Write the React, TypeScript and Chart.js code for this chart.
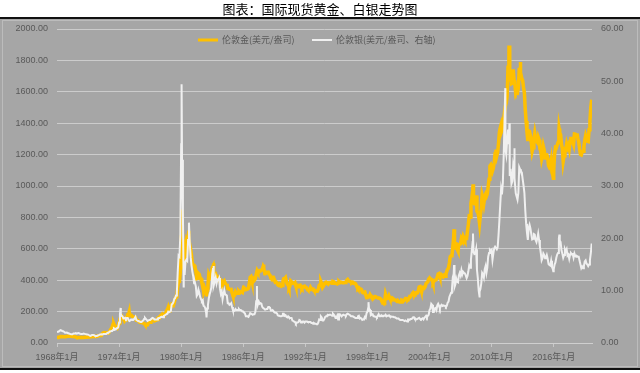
import { useEffect, useRef } from 'react';
import { Chart, registerables } from 'chart.js';

Chart.register(...registerables);

const TITLE = '图表：国际现货黄金、白银走势图';
const GOLD_LABEL = '伦敦金(美元/盎司)';
const SILVER_LABEL = '伦敦银(美元/盎司、右轴)';

const START_YEAR = 1968;

const xTickYears = [1968, 1974, 1980, 1986, 1992, 1998, 2004, 2010, 2016];
const xTickLabels = ['1968年1月', '1974年1月', '1980年1月', '1986年1月', '1992年1月', '1998年1月', '2004年1月', '2010年1月', '2016年1月'];

// Gold, monthly, USD/oz
const gold1968s = [
  35.2, 35.3, 37.5, 38.0, 41.0, 41.1, 39.5, 39.2, 40.0, 39.3, 39.8, 41.5,
  42.3, 42.6, 43.2, 43.3, 43.4, 41.7, 42.2, 41.0, 40.5, 40.2, 37.4, 35.2,
  34.9, 35.0, 35.1, 35.6, 35.9, 35.5, 35.3, 35.4, 36.2, 37.5, 37.4, 37.4,
  37.9, 38.7, 38.9, 39.0, 40.5, 40.1, 41.0, 42.7, 42.0, 42.5, 42.9, 43.5,
  45.7, 48.3, 48.3, 49.0, 54.6, 62.1, 65.7, 67.0, 65.5, 64.9, 62.9, 63.9,
  65.1, 74.2, 84.4, 90.5, 102.0, 120.1, 120.2, 106.8, 103.0, 100.1, 94.8, 106.7,
  129.0, 150.2, 168.4, 172.2, 163.3, 154.1, 143.0, 154.6, 151.8, 158.8, 181.7, 183.9,
  176.3, 179.6, 178.2, 170.1, 167.4, 164.2, 165.2, 163.1, 144.1, 142.8, 142.8, 139.3,
  131.6, 130.4, 132.7, 128.2, 126.4, 125.5, 117.7, 109.9, 114.4, 116.0, 130.3, 133.8,
  132.3, 136.4, 148.3, 149.3, 147.0, 140.8, 143.4, 145.0, 149.3, 158.2, 162.3, 160.9,
  173.2, 178.2, 183.7, 175.4, 176.3, 183.4, 188.8, 206.2, 212.5, 227.3, 206.1, 207.8,
  227.3, 245.7, 242.1, 239.2, 257.6, 279.1, 294.7, 300.8, 355.1, 391.7, 392.5, 455.1,
];
const gold1980s = [
  675.3, 665.3, 553.6, 517.4, 513.8, 600.7, 644.3, 626.5, 673.6, 661.1, 623.5, 594.9,
  557.4, 500.5, 498.8, 495.8, 479.7, 460.8, 409.3, 410.9, 443.3, 437.7, 413.4, 410.1,
  384.1, 374.2, 330.2, 350.5, 333.9, 314.9, 338.6, 364.3, 435.6, 422.6, 415.5, 444.3,
  481.2, 491.4, 419.8, 432.8, 437.4, 412.9, 422.7, 416.2, 412.0, 393.9, 381.5, 388.1,
  370.8, 386.8, 394.2, 381.1, 377.6, 377.7, 347.7, 347.7, 341.1, 340.2, 341.2, 320.2,
  302.7, 299.1, 304.0, 324.9, 316.6, 316.8, 317.4, 330.0, 323.5, 325.9, 325.3, 322.0,
  345.4, 338.9, 345.7, 340.4, 342.5, 342.9, 348.4, 376.4, 418.1, 423.3, 398.1, 391.3,
  408.3, 401.1, 408.9, 438.4, 460.2, 449.6, 450.5, 460.8, 460.0, 465.4, 467.1, 486.3,
  477.2, 442.7, 443.6, 452.1, 451.3, 451.6, 437.6, 431.0, 413.4, 406.8, 419.9, 419.4,
  404.0, 387.8, 390.2, 384.2, 371.1, 367.6, 375.0, 365.4, 361.9, 366.9, 394.0, 409.5,
];
const gold1990s = [
  410.1, 416.8, 393.1, 374.3, 369.0, 352.2, 362.5, 395.0, 389.3, 380.7, 381.8, 378.2,
  383.6, 363.8, 363.3, 358.4, 357.4, 366.7, 367.7, 356.2, 348.7, 358.7, 359.6, 361.7,
  354.5, 353.9, 344.3, 338.6, 337.2, 340.8, 353.1, 342.9, 345.4, 344.4, 335.1, 334.7,
  329.0, 329.4, 330.1, 342.2, 367.1, 371.9, 392.0, 378.8, 355.3, 364.2, 373.8, 383.3,
  387.0, 382.0, 384.0, 377.3, 381.4, 385.6, 385.5, 380.4, 391.6, 389.8, 384.4, 379.3,
  378.6, 376.5, 382.1, 391.0, 385.2, 387.6, 386.2, 383.7, 383.1, 383.1, 385.9, 387.4,
  400.0, 404.8, 396.2, 392.8, 391.9, 385.3, 383.5, 387.5, 383.1, 381.1, 377.9, 369.2,
  355.0, 346.6, 351.8, 344.5, 343.8, 340.8, 324.1, 323.8, 322.8, 324.9, 306.0, 288.7,
  289.3, 297.5, 295.9, 308.4, 299.1, 292.3, 292.9, 284.1, 289.0, 296.1, 294.1, 291.6,
  287.1, 287.3, 285.9, 282.6, 276.4, 261.3, 256.1, 256.7, 264.7, 310.7, 293.2, 283.1,
];
const gold2000s = [
  284.6, 300.0, 286.4, 279.7, 275.3, 285.7, 281.6, 274.5, 273.7, 270.6, 266.0, 271.5,
  265.5, 261.9, 263.0, 260.5, 272.4, 270.2, 267.5, 272.4, 283.4, 283.1, 276.2, 275.9,
  281.7, 295.5, 294.0, 302.7, 314.5, 321.2, 313.3, 310.3, 319.2, 316.6, 319.2, 332.8,
  356.9, 359.0, 340.6, 328.2, 355.7, 356.4, 351.0, 359.8, 378.9, 378.9, 389.9, 407.6,
  414.0, 405.3, 406.7, 403.0, 383.8, 392.4, 398.1, 400.5, 405.3, 420.5, 439.4, 442.1,
  424.2, 423.4, 434.2, 429.2, 421.9, 430.7, 424.5, 437.9, 456.1, 469.9, 476.7, 510.1,
  549.9, 555.0, 557.1, 610.6, 676.5, 596.2, 633.7, 632.6, 598.2, 585.8, 627.8, 629.8,
  631.2, 664.8, 654.9, 679.4, 666.9, 655.5, 665.3, 665.4, 712.7, 754.6, 806.3, 803.2,
  889.6, 922.3, 968.4, 909.7, 888.7, 889.5, 939.8, 839.0, 829.9, 806.6, 760.9, 816.1,
  858.7, 943.2, 924.3, 890.2, 928.6, 945.7, 934.2, 949.5, 996.6, 1043.2, 1127.0, 1134.7,
];
const gold2010s = [
  1117.9, 1095.4, 1113.3, 1148.7, 1205.4, 1232.9, 1193.0, 1215.8, 1271.0, 1342.0, 1369.9, 1390.6,
  1356.4, 1372.7, 1424.0, 1473.8, 1510.4, 1528.7, 1572.8, 1755.8, 1771.9, 1665.2, 1738.9, 1652.2,
  1656.1, 1742.6, 1673.8, 1649.2, 1585.5, 1596.7, 1593.9, 1626.0, 1744.5, 1746.6, 1721.6, 1684.8,
  1671.9, 1627.6, 1592.9, 1487.9, 1414.0, 1343.4, 1285.5, 1351.7, 1348.6, 1316.6, 1275.8, 1221.5,
  1244.3, 1299.6, 1336.1, 1299.0, 1287.5, 1279.1, 1310.6, 1295.1, 1236.6, 1222.5, 1175.3, 1200.6,
  1250.8, 1227.1, 1178.6, 1197.9, 1198.6, 1181.5, 1128.3, 1117.9, 1124.8, 1159.3, 1085.7, 1068.3,
  1097.9, 1199.5, 1245.1, 1242.3, 1260.9, 1276.4, 1336.7, 1340.2, 1326.6, 1266.6, 1238.4, 1157.4,
  1192.1, 1234.2, 1231.4, 1266.9, 1246.0, 1260.3, 1236.8, 1283.0, 1314.1, 1279.5, 1281.9, 1264.5,
  1331.3, 1330.7, 1324.7, 1334.8, 1303.5, 1281.6, 1237.7, 1201.7, 1198.4, 1215.4, 1220.7, 1250.4,
  1291.8, 1320.1, 1300.9, 1285.9, 1283.7, 1359.0, 1413.0, 1500.4,
];
// Daily extremes visible in the picture [decimal year, price]
const goldExtremes = [
  [1974.97, 197], [1980.05, 850], [1980.22, 480], [1980.72, 715], [1982.47, 297],
  [1983.12, 510], [1987.95, 500], [1999.65, 252], [2006.37, 725], [2008.21, 1011],
  [2011.68, 1895], [2012.75, 1790], [2015.96, 1050], [2016.52, 1366], [2019.67, 1550],
];

// Silver, monthly, USD/oz
const silver1968s = [
  2.10, 2.10, 2.20, 2.35, 2.45, 2.40, 2.30, 2.25, 2.20, 2.00, 1.95, 1.98,
  1.95, 1.85, 1.80, 1.75, 1.70, 1.65, 1.65, 1.80, 1.80, 1.80, 1.85, 1.80,
  1.85, 1.90, 1.85, 1.75, 1.70, 1.70, 1.70, 1.80, 1.75, 1.70, 1.65, 1.63,
  1.60, 1.55, 1.40, 1.35, 1.50, 1.55, 1.55, 1.50, 1.38, 1.35, 1.32, 1.37,
  1.49, 1.55, 1.63, 1.66, 1.68, 1.62, 1.71, 1.74, 1.72, 1.73, 1.88, 1.96,
  2.00, 2.20, 2.20, 2.30, 2.30, 2.50, 2.80, 2.70, 2.60, 2.80, 2.80, 3.00,
  3.90, 5.50, 5.50, 5.20, 5.10, 4.70, 4.70, 4.80, 4.60, 4.80, 4.80, 4.40,
  4.20, 4.30, 4.50, 4.40, 4.50, 4.50, 4.70, 5.00, 4.40, 4.30, 4.20, 4.20,
  4.10, 4.00, 4.00, 4.20, 4.30, 4.60, 4.80, 4.60, 4.40, 4.20, 4.30, 4.40,
  4.40, 4.40, 4.70, 4.80, 4.70, 4.50, 4.50, 4.50, 4.50, 4.70, 4.80, 4.80,
  4.90, 5.00, 5.00, 4.90, 5.20, 5.30, 5.40, 5.50, 5.60, 6.00, 5.90, 5.90,
  6.10, 7.40, 7.50, 7.80, 8.40, 8.60, 9.10, 9.60, 13.60, 16.70, 16.50, 20.60,
];
const silver1980s = [
  38.00, 35.00, 25.00, 14.50, 13.00, 15.60, 15.90, 15.70, 19.70, 19.70, 19.00, 16.40,
  14.80, 13.60, 12.70, 11.40, 11.50, 10.80, 9.00, 9.30, 10.20, 9.60, 8.80, 8.40,
  8.00, 8.20, 7.10, 7.00, 6.60, 5.70, 6.60, 7.20, 8.50, 9.30, 9.90, 10.60,
  13.20, 14.30, 11.00, 11.80, 12.50, 11.40, 12.10, 12.00, 12.40, 10.40, 9.40, 9.90,
  8.40, 9.30, 10.10, 9.30, 9.20, 9.00, 7.60, 7.60, 7.30, 7.40, 7.60, 6.90,
  6.30, 6.10, 6.20, 6.50, 6.30, 6.30, 6.30, 6.50, 6.30, 6.30, 6.20, 6.00,
  6.00, 5.80, 5.60, 5.10, 5.10, 5.10, 5.00, 5.30, 5.70, 5.60, 5.50, 5.40,
  5.50, 5.50, 5.90, 8.00, 8.30, 7.40, 7.90, 7.50, 7.60, 7.50, 6.90, 6.70,
  6.60, 6.40, 6.40, 6.50, 6.50, 6.90, 6.90, 6.70, 6.20, 6.20, 6.30, 6.10,
  5.90, 5.80, 5.80, 5.70, 5.30, 5.20, 5.20, 5.10, 5.10, 5.20, 5.60, 5.60,
];
const silver1990s = [
  5.20, 5.30, 5.00, 4.90, 5.10, 4.90, 4.80, 4.80, 4.80, 4.30, 4.20, 4.10,
  4.00, 3.70, 3.90, 3.90, 4.00, 4.40, 4.30, 3.90, 4.00, 4.10, 4.10, 3.90,
  4.10, 4.10, 4.10, 4.00, 4.00, 4.00, 4.00, 3.80, 3.80, 3.70, 3.80, 3.70,
  3.70, 3.60, 3.60, 3.90, 4.50, 4.40, 5.10, 4.90, 4.30, 4.30, 4.60, 5.00,
  5.10, 5.20, 5.40, 5.30, 5.40, 5.40, 5.30, 5.20, 5.60, 5.40, 5.20, 4.80,
  4.80, 5.20, 4.50, 5.50, 5.50, 5.30, 5.10, 5.30, 5.40, 5.30, 5.30, 5.20,
  5.50, 5.60, 5.50, 5.40, 5.30, 5.10, 5.10, 5.10, 5.00, 4.90, 4.80, 4.80,
  4.80, 5.10, 5.20, 4.70, 4.80, 4.70, 4.40, 4.50, 4.60, 5.00, 4.80, 5.70,
  6.00, 6.80, 6.20, 6.30, 5.30, 5.40, 5.50, 5.10, 5.10, 5.00, 5.00, 4.90,
  5.20, 5.50, 5.10, 5.10, 5.30, 5.10, 5.20, 5.20, 5.20, 5.40, 5.10, 5.20,
];
const silver2000s = [
  5.20, 5.30, 5.10, 5.10, 5.00, 5.00, 5.00, 4.90, 4.90, 4.80, 4.70, 4.70,
  4.70, 4.50, 4.40, 4.40, 4.40, 4.40, 4.30, 4.20, 4.30, 4.20, 4.10, 4.50,
  4.50, 4.40, 4.60, 4.60, 4.70, 4.90, 4.90, 4.60, 4.60, 4.50, 4.60, 4.70,
  4.80, 4.60, 4.50, 4.60, 4.70, 4.50, 4.80, 5.00, 5.20, 4.90, 5.20, 5.40,
  6.30, 6.60, 7.50, 7.30, 5.90, 5.90, 6.60, 6.70, 6.30, 7.20, 7.50, 7.10,
  6.60, 7.10, 7.30, 7.10, 7.20, 7.10, 7.10, 6.90, 7.10, 7.70, 7.90, 8.80,
  9.20, 9.60, 10.30, 12.60, 13.20, 10.70, 11.20, 12.30, 11.70, 11.60, 12.90, 13.40,
  12.90, 13.90, 13.10, 13.60, 13.40, 13.30, 12.90, 12.40, 12.80, 13.70, 14.80, 14.40,
  15.90, 17.60, 19.30, 17.40, 17.00, 17.10, 17.90, 14.00, 12.40, 10.00, 9.80, 10.30,
  11.40, 13.40, 13.10, 12.50, 14.10, 14.70, 13.40, 14.40, 16.50, 17.20, 17.80, 17.60,
];
const silver2010s = [
  17.80, 15.90, 17.10, 18.10, 18.40, 18.40, 17.90, 18.30, 20.60, 23.40, 26.50, 29.40,
  28.40, 30.60, 35.80, 42.70, 37.00, 36.00, 38.90, 40.80, 38.00, 31.90, 33.30, 30.40,
  30.90, 33.90, 32.90, 31.50, 28.60, 28.00, 27.40, 28.70, 33.60, 33.20, 32.70, 32.60,
  31.30, 30.10, 28.70, 25.40, 22.80, 21.10, 19.70, 22.00, 22.60, 21.90, 20.80, 19.80,
  19.90, 20.80, 20.70, 19.70, 19.30, 20.00, 20.90, 19.70, 18.40, 17.20, 15.80, 16.20,
  17.10, 16.80, 16.20, 16.30, 16.80, 16.10, 15.10, 14.90, 14.80, 15.70, 14.50, 14.10,
  14.10, 15.00, 15.40, 16.30, 16.90, 17.20, 20.00, 19.60, 19.30, 17.70, 17.10, 16.30,
  16.80, 17.90, 17.50, 17.90, 16.70, 16.90, 16.10, 16.90, 17.20, 17.00, 17.00, 16.30,
  17.10, 16.60, 16.50, 16.60, 16.50, 16.50, 15.70, 15.00, 14.30, 14.60, 14.30, 14.70,
  15.60, 15.80, 15.20, 15.00, 14.70, 15.00, 15.90, 17.10,
];
const silverExtremes = [
  [1974.15, 6.7], [1980.04, 49.45], [1980.24, 10.8], [1980.75, 23.0], [1982.45, 4.9],
  [1983.12, 14.7], [1987.32, 10.9], [1998.1, 7.8], [2006.37, 14.9], [2008.2, 20.9],
  [2008.83, 8.9], [2011.32, 48.7], [2011.72, 42.0], [2012.17, 37.2], [2015.96, 13.7],
  [2016.55, 20.7], [2019.67, 19.0],
];

const FONT = '"Liberation Sans", "Noto Sans CJK SC", sans-serif';
const CJK_FONT = '"Noto Sans CJK SC", "Liberation Sans", sans-serif';
const GOLD_COLOR = '#FFC000';
const SILVER_COLOR = '#F0F0F0';
const TEXT_COLOR = '#595959';

function buildSeries(monthly: number[], extremes: number[][]) {
  const pts = monthly.map((v, i) => ({ x: START_YEAR + i / 12, y: v }));
  extremes.forEach(([x, y]) => pts.push({ x, y }));
  pts.sort((a, b) => a.x - b.x);
  return pts;
}

const framePlugin = {
  id: 'frame',
  beforeDraw(chart: any) {
    const ctx = chart.ctx;
    const w = chart.width;
    const h = chart.height;
    ctx.save();
    ctx.fillStyle = '#ffffff';
    ctx.fillRect(0, 0, w, h);
    ctx.fillStyle = '#a6a6a6';
    ctx.fillRect(0, 19, w, 349);
    ctx.strokeStyle = '#bcbcbc';
    ctx.lineWidth = 1;
    ctx.strokeRect(2.5, 20.5, w - 5, 346);
    ctx.fillStyle = '#111111';
    ctx.fillRect(0, 17, w, 2);
    ctx.fillRect(0, 368, w, 2);
    ctx.fillStyle = '#000000';
    ctx.font = `13px ${CJK_FONT}`;
    ctx.textAlign = 'center';
    ctx.textBaseline = 'middle';
    ctx.fillText(TITLE, w / 2, 9);
    ctx.restore();
  },
  afterDraw(chart: any) {
    const ctx = chart.ctx;
    ctx.save();
    ctx.font = `9px ${CJK_FONT}`;
    ctx.textBaseline = 'middle';
    ctx.textAlign = 'left';
    const y = 40;
    ctx.lineWidth = 3;
    ctx.strokeStyle = GOLD_COLOR;
    ctx.beginPath();
    ctx.moveTo(198, y);
    ctx.lineTo(218, y);
    ctx.stroke();
    ctx.fillStyle = TEXT_COLOR;
    ctx.fillText(GOLD_LABEL, 222, y);
    ctx.strokeStyle = SILVER_COLOR;
    ctx.lineWidth = 2;
    ctx.beginPath();
    ctx.moveTo(312, y);
    ctx.lineTo(332, y);
    ctx.stroke();
    ctx.fillText(SILVER_LABEL, 336, y);
    ctx.restore();
  },
};

export default function App() {
  const ref = useRef<HTMLCanvasElement>(null);
  useEffect(() => {
    if (!ref.current) return;
    const chart = new Chart(ref.current, {
      type: 'line',
      data: {
        datasets: [
          {
            label: GOLD_LABEL,
            data: buildSeries([...gold1968s, ...gold1980s, ...gold1990s, ...gold2000s, ...gold2010s], goldExtremes),
            borderColor: GOLD_COLOR,
            borderWidth: 3.5,
            pointRadius: 0,
            tension: 0,
            yAxisID: 'y',
            order: 1,
          },
          {
            label: SILVER_LABEL,
            data: buildSeries([...silver1968s, ...silver1980s, ...silver1990s, ...silver2000s, ...silver2010s], silverExtremes),
            borderColor: SILVER_COLOR,
            borderWidth: 2,
            pointRadius: 0,
            tension: 0,
            yAxisID: 'y1',
            order: 0,
          },
        ],
      },
      options: {
        responsive: false,
        animation: false,
        parsing: false as any,
        layout: { padding: { top: 29, bottom: 10, left: 0, right: 0 } },
        plugins: { legend: { display: false }, tooltip: { enabled: false }, title: { display: false } },
        scales: {
          x: {
            type: 'linear',
            min: 1968,
            max: 2019.7,
            afterBuildTicks: (scale: any) => {
              scale.ticks = xTickYears.map((v) => ({ value: v }));
            },
            afterFit: (scale: any) => {
              scale.height = 20;
            },
            ticks: {
              autoSkip: false,
              maxRotation: 0,
              padding: 5,
              color: TEXT_COLOR,
              font: { family: FONT, size: 9 },
              callback: (v: any) => {
                const i = xTickYears.indexOf(Number(v));
                return i >= 0 ? xTickLabels[i] : '';
              },
            },
            grid: { drawOnChartArea: false, drawTicks: true, tickLength: 4, color: '#c8c8c8' },
            border: { display: true, color: '#cfcfcf' },
          },
          y: {
            type: 'linear',
            position: 'left',
            min: 0,
            max: 2000,
            afterFit: (scale: any) => {
              scale.width = 57;
            },
            ticks: {
              stepSize: 200,
              padding: 9,
              color: TEXT_COLOR,
              font: { family: FONT, size: 9 },
              callback: (v: any) => Number(v).toFixed(2),
            },
            grid: { color: '#cccccc', drawTicks: false, lineWidth: 1 },
            border: { display: false },
          },
          y1: {
            type: 'linear',
            position: 'right',
            min: 0,
            max: 60,
            afterFit: (scale: any) => {
              scale.width = 48;
            },
            ticks: {
              stepSize: 10,
              padding: 9,
              color: TEXT_COLOR,
              font: { family: FONT, size: 9 },
              callback: (v: any) => Number(v).toFixed(2),
            },
            grid: { drawOnChartArea: false, drawTicks: false },
            border: { display: false },
          },
        },
      },
      plugins: [framePlugin],
    });
    return () => chart.destroy();
  }, []);
  return (
    <div style={{ position: 'fixed', left: 0, top: 0, width: 640, height: 373, background: '#fff' }}>
      <canvas ref={ref} width={640} height={373} style={{ display: 'block', width: 640, height: 373 }} />
    </div>
  );
}
